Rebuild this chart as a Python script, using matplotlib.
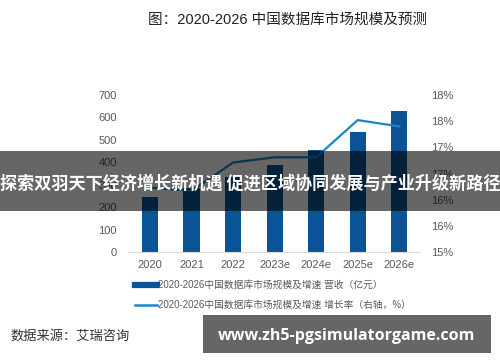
import matplotlib
matplotlib.use("Agg")
import matplotlib.pyplot as plt
from matplotlib.lines import Line2D
from matplotlib.patches import Rectangle

plt.rcParams['font.family'] = ['Liberation Sans', 'Noto Sans CJK SC', 'DejaVu Sans']

years = ['2020', '2021', '2022', '2023e', '2024e', '2025e', '2026e']
revenue = [245, 285, 333, 389, 455, 537, 630]
growth = [16.23, 16.17, 16.71, 16.81, 16.81, 17.52, 17.40]
left_ticks = [0, 100, 200, 300, 400, 500, 600, 700]
right_ticks = [15.0, 15.5, 16.0, 16.5, 17.0, 17.5, 18.0]
right_tick_labels = ['15%', '16%', '16%', '17%', '17%', '18%', '18%']

title = '图：2020-2026 中国数据库市场规模及预测'
legend_labels = ['2020-2026中国数据库市场规模及增速 营收（亿元）',
                 '2020-2026中国数据库市场规模及增速 增长率（右轴，%）']
source = '数据来源：艾瑞咨询'
banner = '探索双羽天下经济增长新机遇 促进区域协同发展与产业升级新路径'
watermark = 'www.zh5-pgsimulatorgame.com'

bar_color = '#0a5396'
line_color = '#1a86c8'
tick_color = '#595959'

W, H = 500, 362
fig = plt.figure(figsize=(W / 100, H / 100), dpi=100)
ax = fig.add_axes([128 / W, 1 - 252 / H, 292 / W, 157 / H])
x = list(range(len(years)))
ax.bar(x, revenue, width=0.39, color=bar_color, zorder=2)
ax.set_ylim(0, 700)
ax.set_yticks(left_ticks)
ax.set_xlim(-0.53, 6.5)
ax.set_xticks(x)
ax.set_xticklabels(years)
for s in ['top', 'right', 'left']:
    ax.spines[s].set_visible(False)
ax.spines['bottom'].set_color('#d9d9d9')
ax.tick_params(axis='both', length=0, colors=tick_color, labelsize=8)
ax.tick_params(axis='x', pad=6)
ax.tick_params(axis='y', pad=8)

ax2 = ax.twinx()
ax2.plot(x, growth, color=line_color, lw=1.6, zorder=3)
ax2.set_ylim(15, 18)
ax2.set_yticks(right_ticks)
ax2.set_yticklabels(right_tick_labels)
for s in ['top', 'right', 'left', 'bottom']:
    ax2.spines[s].set_visible(False)
ax2.tick_params(axis='y', length=0, colors=tick_color, labelsize=8, pad=8)

fig.text(288 / W, 1 - 20 / H, title, ha='center', va='center', fontsize=10.5, color='#222222')

handles = [Line2D([0], [0], color=bar_color, lw=4.5), Line2D([0], [0], color=line_color, lw=1.8)]
fig.legend(handles, legend_labels, loc='upper left', bbox_to_anchor=(135 / W, 1 - 280 / H),
           bbox_transform=fig.transFigure, frameon=False, fontsize=7, handlelength=2.3,
           handletextpad=0.1, borderpad=0, borderaxespad=0, labelspacing=1.05,
           labelcolor=tick_color)

fig.text(10 / W, 1 - 336 / H, source, ha='left', va='center', fontsize=9.5, color='#333333')

# banner overlay
fig.patches.append(Rectangle((0, 1 - 211 / H), 1, 60 / H, transform=fig.transFigure,
                             facecolor='black', alpha=0.6, edgecolor='none', zorder=10))
fig.text(0.5, 1 - 184 / H, banner, ha='center', va='center', fontsize=12.3,
         fontweight='bold', color='white', zorder=11,
         family=['Noto Sans CJK SC', 'DejaVu Sans'])

# watermark
fig.patches.append(Rectangle((203 / W, 1 - 353 / H), 288 / W, 38 / H, transform=fig.transFigure,
                             facecolor='#666666', edgecolor='none', zorder=10))
fig.text(347 / W, 1 - 336 / H, watermark, ha='center', va='center', fontsize=11.5,
         fontweight='bold', color='white', zorder=11, family=['Open Sans', 'DejaVu Sans'])

fig.savefig('out.png', dpi=100)
